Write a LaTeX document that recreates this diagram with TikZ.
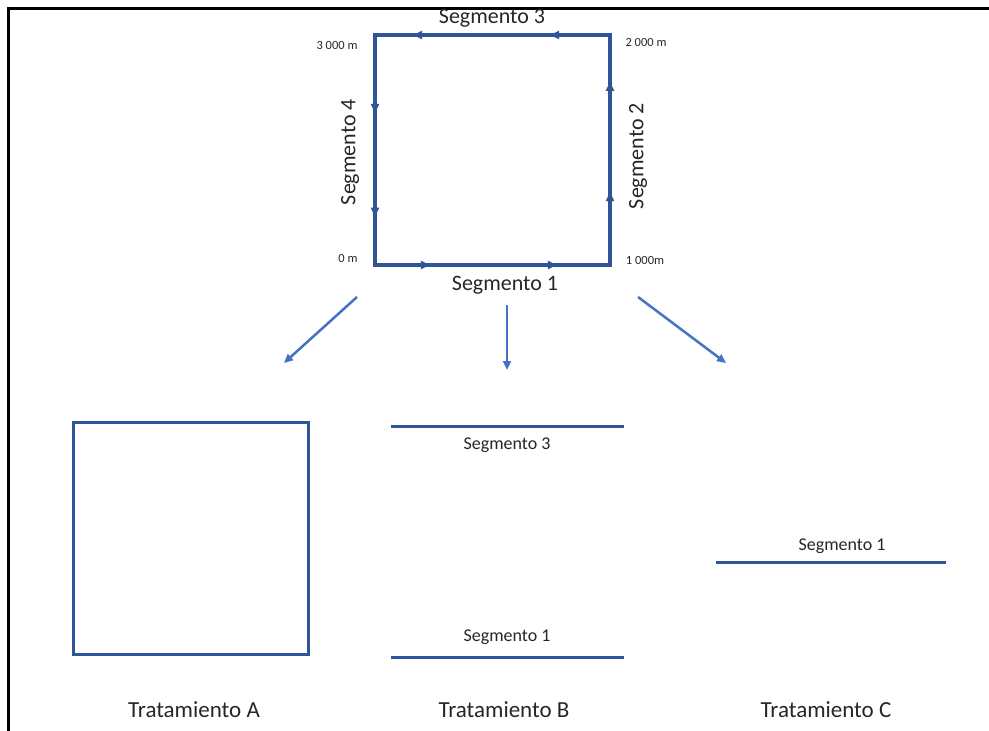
\documentclass[tikz,border=0pt]{standalone}
\usepackage{fontspec}
\setmainfont{Carlito}
\usetikzlibrary{arrows.meta,decorations.markings}
\definecolor{dblue}{HTML}{2F5597}
\definecolor{lblue}{HTML}{4472C4}
\tikzset{
  side/.style={draw=dblue,line width=3.5pt},
  midarr/.style 2 args={postaction={decorate},decoration={markings,
     mark=at position #1 with {\arrow{Triangle[length=9pt,width=8pt]}},
     mark=at position #2 with {\arrow{Triangle[length=9pt,width=8pt]}}}},
  seglbl/.style={font=\fontsize{22}{24}\selectfont,text=black!85,inner sep=0pt},
  smalllbl/.style={font=\fontsize{12.5}{14}\selectfont,text=black!85,inner sep=0pt},
  sublbl/.style={font=\fontsize{18}{20}\selectfont,text=black!85,inner sep=0pt},
  treat/.style={font=\fontsize{23}{25}\selectfont,text=black!85,inner sep=0pt},
  flow/.style={draw=lblue,line width=2.5pt,-{Triangle[length=9pt,width=8pt]}},
  plainline/.style={draw=dblue,line width=3pt},
}
\begin{document}
\begin{tikzpicture}[x=1pt,y=-1pt]
\useasboundingbox (0,0) rectangle (989,731);
% frame
\draw[line width=3pt] (8,731) -- (8,8) -- (989,8);
% main square corners
\coordinate (p0) at (375,265);
\coordinate (p1) at (610,265);
\coordinate (p2) at (610,35);
\coordinate (p3) at (375,35);
\path[side,midarr={0.234}{0.774}] (p0) -- (p1);
\path[side,midarr={0.317}{0.796}] (p1) -- (p2);
\path[side,midarr={0.255}{0.838}] (p2) -- (p3);
\path[side,midarr={0.339}{0.79}] (p3) -- (p0);
\draw[dblue,line width=3.5pt,line join=miter] (p0) -- (p1) -- (p2) -- (p3) -- cycle;
% labels on square
\node[seglbl] (s3) at (492,18) {Segmento 3};
\node[seglbl] (s1) at (505,285) {Segmento 1};
\node[seglbl,rotate=90] (s4) at (350,152) {Segmento 4};
\node[seglbl,rotate=90] (s2) at (638,156) {Segmento 2};
\node[smalllbl] (m3) at (337,45) {3 000 m};
\node[smalllbl] (m2) at (646,42) {2 000 m};
\node[smalllbl] (m0) at (348,258) {0 m};
\node[smalllbl] (m1) at (645,260) {1 000m};
% flow arrows
\coordinate (a1s) at (357,297); \coordinate (a1e) at (284,363);
\coordinate (a2s) at (507,305); \coordinate (a2e) at (507,370);
\coordinate (a3s) at (638,297); \coordinate (a3e) at (726,363);
\draw[flow] (a1s) -- (a1e);
\draw[flow] (a2s) -- (a2e);
\draw[flow] (a3s) -- (a3e);
% Tratamiento A
\coordinate (ta1) at (73,422); \coordinate (ta2) at (308,654);
\draw[plainline] (ta1) rectangle (ta2);
% Tratamiento B
\coordinate (b3l) at (391,426); \coordinate (b3r) at (624,426);
\coordinate (b1l) at (391,657); \coordinate (b1r) at (624,657);
\draw[plainline] (b3l) -- (b3r);
\draw[plainline] (b1l) -- (b1r);
\node[sublbl] (b3t) at (507,445) {Segmento 3};
\node[sublbl] (b1t) at (507,637) {Segmento 1};
% Tratamiento C
\coordinate (c1l) at (716,562); \coordinate (c1r) at (946,562);
\draw[plainline] (c1l) -- (c1r);
\node[sublbl] (c1t) at (842,546) {Segmento 1};
% treatment titles
\node[treat] (tA) at (194,710) {Tratamiento A};
\node[treat] (tB) at (504,710) {Tratamiento B};
\node[treat] (tC) at (826,710) {Tratamiento C};
\end{tikzpicture}
\end{document}
